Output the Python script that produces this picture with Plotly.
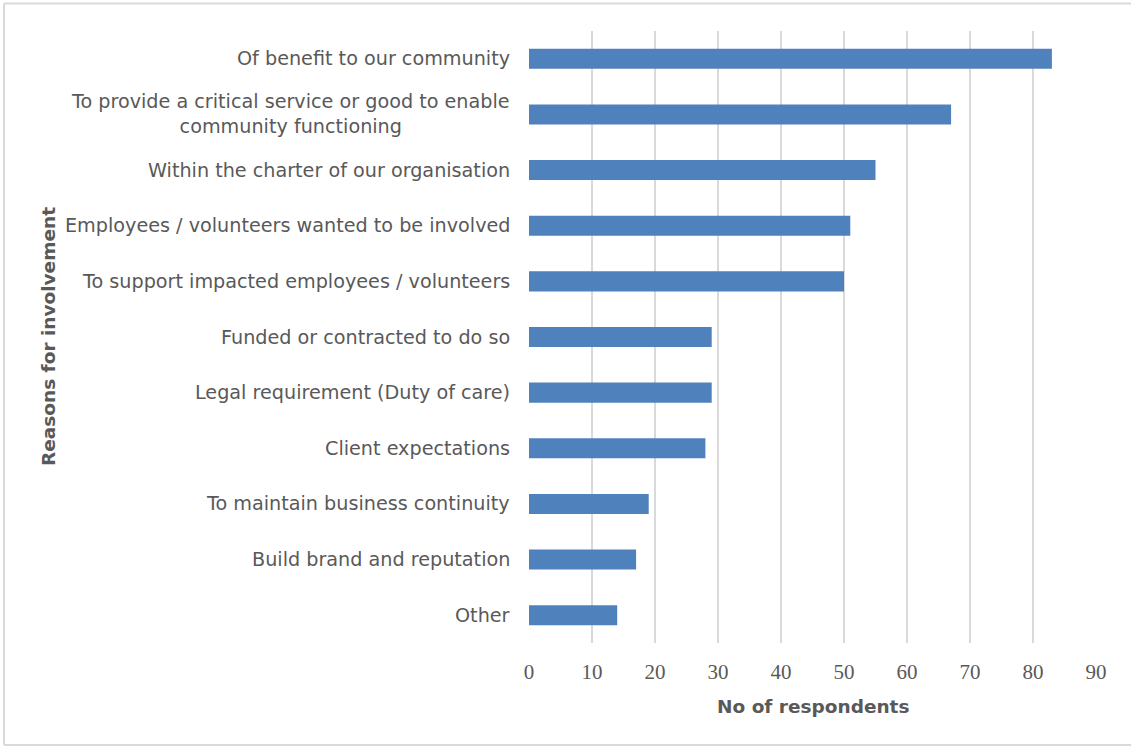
import plotly.graph_objects as go

# Reasons for involvement and respondent counts (top to bottom)
reasons = [
    "Of benefit to our community",
    "To provide a critical service or good to enable<br>community functioning",
    "Within the charter of our organisation",
    "Employees / volunteers wanted to be involved",
    "To support impacted employees / volunteers",
    "Funded or contracted to do so",
    "Legal requirement (Duty of care)",
    "Client expectations",
    "To maintain business continuity",
    "Build brand and reputation",
    "Other",
]
respondents = [83, 67, 55, 51, 50, 29, 29, 28, 19, 17, 14]
x_ticks = [0, 10, 20, 30, 40, 50, 60, 70, 80, 90]

GRAY = "#595959"
BAR = "#4f81bd"
LABEL_FONT = "'DejaVu Sans', sans-serif"

fig = go.Figure(
    go.Bar(
        x=respondents,
        y=reasons,
        orientation="h",
        marker=dict(color=BAR, line=dict(width=0)),
    )
)

# category labels as centred multi-line text to the left of the axis
annotations = [
    dict(
        x=0, xref="paper", y=r, yref="y",
        text=r, showarrow=False,
        xanchor="right", yanchor="middle", align="center",
        xshift=-17,
        font=dict(family=LABEL_FONT, size=19.2, color=GRAY),
    )
    for r in reasons
]
annotations += [
    dict(
        x=0.5, xref="paper", y=-63 / 612, yref="paper",
        text="<b>No of respondents</b>", showarrow=False,
        xanchor="center", yanchor="middle",
        font=dict(family=LABEL_FONT, size=18.5, color=GRAY),
    ),
    dict(
        x=0, xref="paper", y=0.5, yref="paper",
        text="<b>Reasons for involvement</b>", showarrow=False,
        textangle=-90, xanchor="center", yanchor="middle",
        xshift=-481,
        font=dict(family=LABEL_FONT, size=18.5, color=GRAY),
    ),
]

fig.update_layout(
    width=1131, height=747,
    margin=dict(l=529, r=35, t=31, b=104),
    paper_bgcolor="white", plot_bgcolor="white",
    showlegend=False,
    bargap=0.64,
    annotations=annotations,
    xaxis=dict(
        range=[0, 90],
        tickvals=x_ticks,
        showgrid=True, gridcolor="#d9d9d9", gridwidth=1.5,
        zeroline=False, showline=False,
        ticks="", ticklabelstandoff=14,
        tickfont=dict(family="'Liberation Serif', 'DejaVu Serif', serif", size=21, color=GRAY),
    ),
    yaxis=dict(
        categoryorder="array", categoryarray=reasons,
        autorange="reversed",
        showticklabels=False, showgrid=False, zeroline=False, showline=False,
        ticks="",
    ),
    shapes=[
        # frame around the chart on top, left and bottom
        dict(type="line", xref="paper", yref="paper",
             x0=-525/567, x1=(1131 - 529) / 567, y0=1 + 27.5/612, y1=1 + 27.5/612,
             line=dict(color="#d9d9d9", width=2)),
        dict(type="line", xref="paper", yref="paper",
             x0=-525/567, x1=-525/567, y0=-102/612, y1=1 + 27.5/612,
             line=dict(color="#d9d9d9", width=2)),
        dict(type="line", xref="paper", yref="paper",
             x0=-525/567, x1=(1131 - 529) / 567, y0=-102/612, y1=-102/612,
             line=dict(color="#d9d9d9", width=2)),
    ],
)

fig.write_html("out.html")
